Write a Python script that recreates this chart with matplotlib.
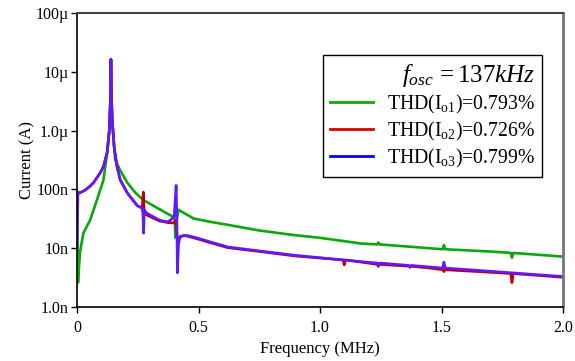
import matplotlib
matplotlib.use("Agg")
import matplotlib.pyplot as plt
import numpy as np

plt.rcParams['font.family'] = ['Liberation Serif', 'DejaVu Serif']
plt.rcParams['mathtext.fontset'] = 'custom'
plt.rcParams['mathtext.rm'] = 'Liberation Serif'
plt.rcParams['mathtext.it'] = 'Liberation Serif:italic'

# frequency in MHz, current in nA
green_f = [0.0, 0.004, 0.012, 0.026, 0.054, 0.082, 0.109, 0.124, 0.133, 0.139,
           0.1396, 0.141, 0.145, 0.157, 0.178, 0.207, 0.24, 0.273, 0.31, 0.344,
           0.375, 0.398, 0.402, 0.405, 0.41, 0.418, 0.43, 0.48, 0.55, 0.62,
           0.75, 0.894, 1.0, 1.17, 1.235, 1.24, 1.245, 1.45, 1.505, 1.51,
           1.515, 1.72, 1.785, 1.79, 1.795, 2.0]
green_i = [50, 2.6, 8.3, 18, 30, 66, 145, 420, 1000, 5000,
           16000, 5000, 1500, 320, 210, 130, 88, 66, 54, 45,
           38, 34, 30, 15, 30, 45, 42, 32, 28, 25,
           20, 16.7, 15, 12, 11.6, 12.5, 11.6, 10, 9.6, 11.3,
           9.6, 8.7, 8.3, 6.9, 8.3, 7.2]

red_f = [0.0, 0.003, 0.01, 0.03, 0.05, 0.068, 0.095, 0.108, 0.124, 0.133,
         0.139, 0.1396, 0.141, 0.145, 0.153, 0.165, 0.178, 0.207, 0.248, 0.268,
         0.271, 0.273, 0.276, 0.285, 0.31, 0.34, 0.38, 0.40, 0.407, 0.413,
         0.42, 0.44, 0.48, 0.62, 0.75, 0.894, 1.095, 1.1, 1.105, 1.17,
         1.235, 1.24, 1.245, 1.38, 1.45, 1.505, 1.51, 1.515, 1.72, 1.785,
         1.79, 1.795, 2.0]
red_i = [93, 88, 87, 95, 110, 130, 190, 240, 420, 1000,
         5000, 16000, 5000, 1500, 520, 240, 145, 87, 53, 48,
         70, 90, 45, 37, 33, 29, 27, 27, 30, 14,
         15, 16.5, 15, 10.2, 8.8, 7.4, 6.3, 5.2, 6.3, 5.8,
         5.3, 4.9, 5.3, 4.9, 4.6, 4.3, 4.0, 4.3, 3.85, 3.7,
         2.6, 3.7, 3.2]

blue_f = [0.0, 0.004, 0.01, 0.03, 0.05, 0.068, 0.095, 0.108, 0.124, 0.133,
          0.139, 0.1396, 0.141, 0.145, 0.153, 0.165, 0.178, 0.207, 0.248, 0.268,
          0.271, 0.274, 0.277, 0.285, 0.31, 0.34, 0.37, 0.385, 0.40, 0.408,
          0.411, 0.413, 0.418, 0.425, 0.45, 0.48, 0.62, 0.75, 0.894, 1.17,
          1.235, 1.24, 1.245, 1.365, 1.37, 1.375, 1.45, 1.505, 1.51, 1.515,
          1.72, 2.0]
blue_i = [9.3, 88, 87, 95, 110, 130, 190, 240, 420, 1000,
          5000, 16500, 5000, 1500, 520, 240, 145, 87, 53, 48,
          40, 18, 45, 40, 35, 30, 28, 30, 35, 117,
          30, 3.8, 12, 16, 16.5, 15.5, 10.5, 9, 7.6, 5.9,
          5.6, 5.0, 5.6, 5.1, 4.7, 5.1, 4.8, 4.6, 5.8, 4.6,
          4.0, 3.3]

labels = [r'THD(I$_{\mathrm{o1}}$)=0.793%',
          r'THD(I$_{\mathrm{o2}}$)=0.726%',
          r'THD(I$_{\mathrm{o3}}$)=0.799%']
plot_colors = ['#0aa80a', '#c00000', '#6018ff']
legend_colors = ['#0aa80a', '#d80000', '#0000ff']

fig = plt.figure(figsize=(5.75, 3.61), dpi=100)
ax = fig.add_axes([77 / 575, 1 - 307 / 361, (563 - 77) / 575, (307 - 13) / 361])

series = [(green_f, green_i), (red_f, red_i), (blue_f, blue_i)]
for (f, i), c in zip(series, plot_colors):
    ax.plot(f, np.array(i) * 1e-9, color=c, lw=1.9, solid_joinstyle='round')

ax.set_yscale('log')
ax.set_xlim(0, 2.0)
ax.set_ylim(1e-9, 1e-4)
ax.set_xticks([0, 0.5, 1.0, 1.5, 2.0])
ax.set_xticklabels(['0', '0.5', '1.0', '1.5', '2.0'])
ax.set_yticks([1e-9, 1e-8, 1e-7, 1e-6, 1e-5, 1e-4])
ax.set_yticklabels(['1.0n', '10n', '100n', '1.0\u00b5', '10\u00b5', '100\u00b5'])
ax.yaxis.set_minor_locator(matplotlib.ticker.NullLocator())
ax.tick_params(direction='out', length=4, width=1, labelsize=11.5)
ax.tick_params(axis='x', pad=5)
ax.tick_params(axis='y', pad=2)
ax.set_xlabel('Frequency (MHz)', fontsize=12, labelpad=4)
ax.set_ylabel('Current (A)', fontsize=12, labelpad=0)

ax.spines['left'].set_linewidth(1.2)
ax.spines['bottom'].set_linewidth(1.2)
ax.spines['top'].set_color('#444444')
ax.spines['top'].set_linewidth(1.5)
ax.spines['right'].set_color('#777777')
ax.spines['right'].set_linewidth(2)

handles = [plt.Line2D([], [], color=c, lw=2) for c in legend_colors]
leg = ax.legend(handles, labels, loc='upper right',
                bbox_to_anchor=(542 / 575, 1 - 55 / 361),
                bbox_transform=fig.transFigure, borderaxespad=0,
                fontsize=14.2, title=r'$f_{osc}\,=137kHz$',
                title_fontsize=18, alignment='right',
                fancybox=False, framealpha=1, edgecolor='black',
                handlelength=2.2, handletextpad=0.7, labelspacing=0.2,
                borderpad=0.35)
leg.get_frame().set_linewidth(1.0)

fig.savefig('out.png', dpi=100)
